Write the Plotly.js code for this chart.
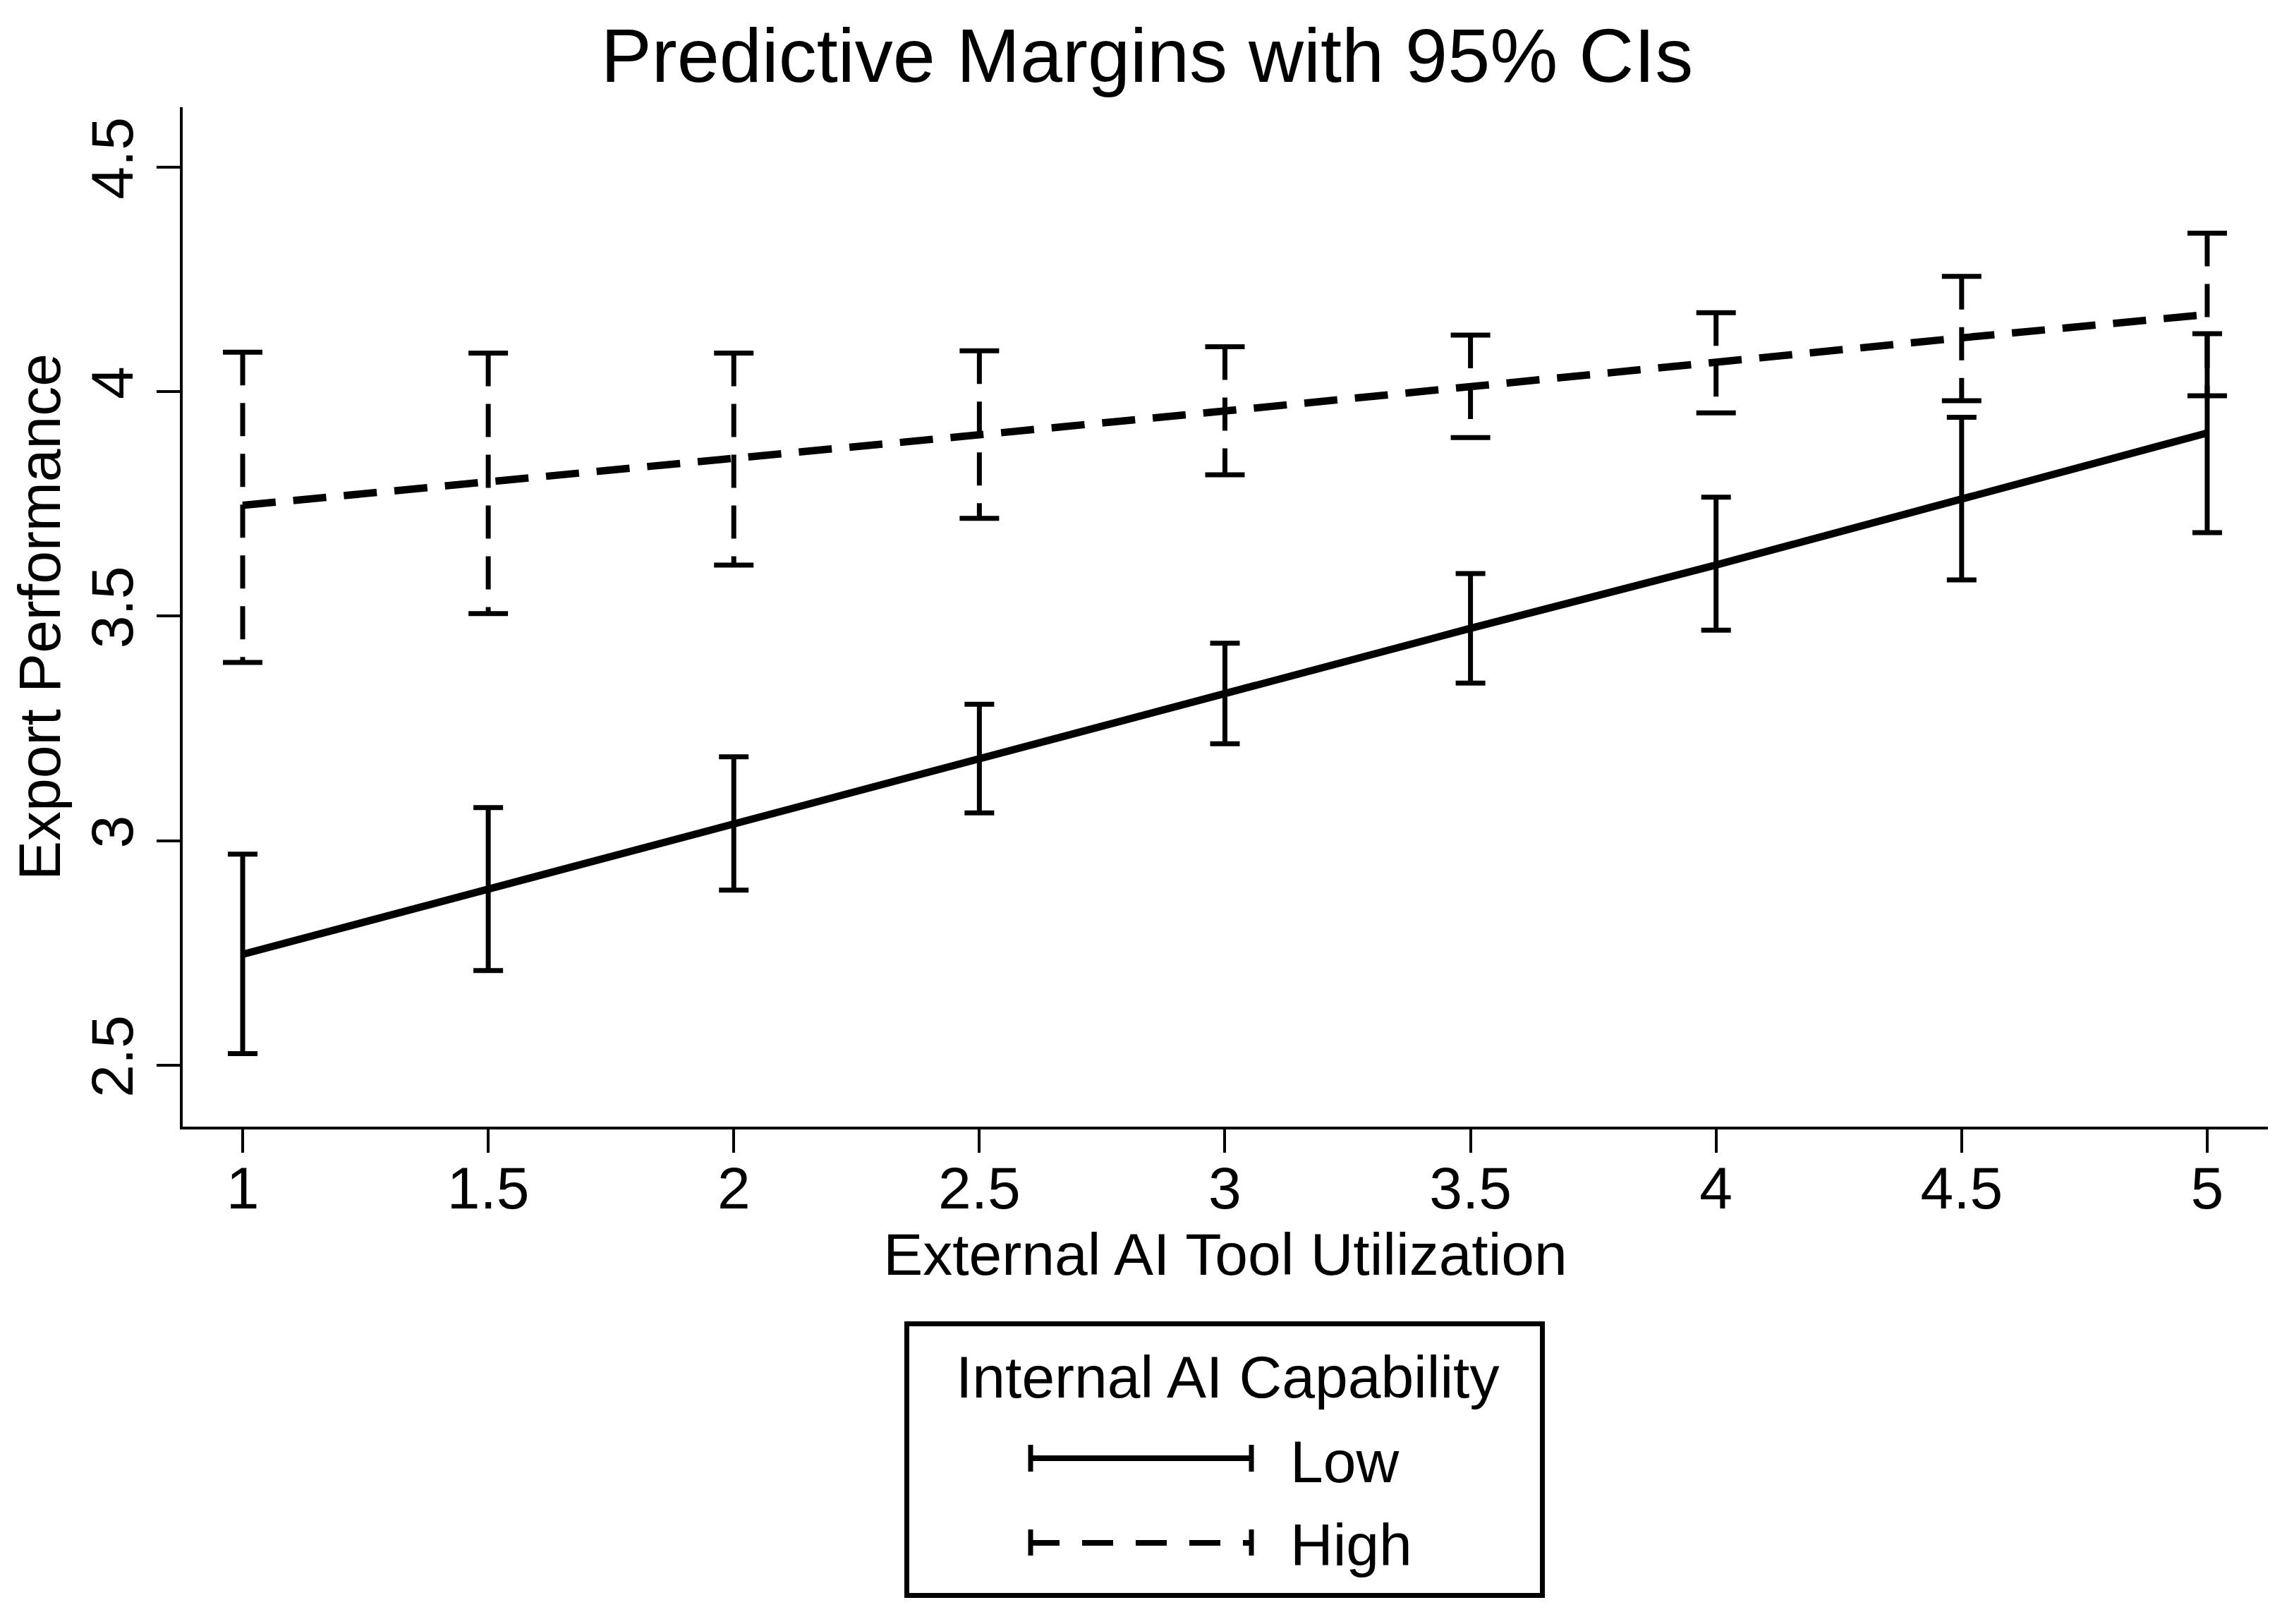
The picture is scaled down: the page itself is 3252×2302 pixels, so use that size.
<!DOCTYPE html>
<html>
<head>
<meta charset="utf-8">
<script src="https://cdn.plot.ly/plotly-3.0.1.min.js"></script>
<style>
  html, body { margin: 0; padding: 0; background: #ffffff; }
  #chart { width: 3252px; height: 2302px; }
</style>
</head>
<body>
<div id="chart"></div>
<script>
// ---- data ----
var xValues = [1, 1.5, 2, 2.5, 3, 3.5, 4, 4.5, 5];
var xTickLabels = ['1', '1.5', '2', '2.5', '3', '3.5', '4', '4.5', '5'];
var yTickValues = [2.5, 3, 3.5, 4, 4.5];
var yTickLabels = ['2.5', '3', '3.5', '4', '4.5'];

var lowMargin = [2.747, 2.892, 3.039, 3.182, 3.328, 3.473, 3.614, 3.761, 3.908];
var lowLower  = [2.526, 2.711, 2.890, 3.062, 3.216, 3.351, 3.469, 3.581, 3.686];
var lowUpper  = [2.970, 3.074, 3.187, 3.304, 3.440, 3.595, 3.765, 3.943, 4.129];

var highMargin = [3.747, 3.798, 3.851, 3.904, 3.957, 4.012, 4.066, 4.120, 4.172];
var highLower  = [3.397, 3.506, 3.614, 3.718, 3.815, 3.898, 3.953, 3.980, 3.991];
var highUpper  = [4.088, 4.086, 4.086, 4.091, 4.100, 4.126, 4.176, 4.257, 4.353];

var seriesNames = ['Low', 'High'];
var legendTitle = 'Internal AI Capability';
var chartTitle = 'Predictive Margins with 95% CIs';
var xTitle = 'External AI Tool Utilization';
var yTitle = 'Export Performance';

// ---- styling ----
var FONT = 'Liberation Sans, Arial, Helvetica, sans-serif';
var W = 3252, H = 2302;
var M = { l: 259, r: 37, t: 152, b: 705 };
var plotW = W - M.l - M.r, plotH = H - M.t - M.b;
var DASH = '47px,25px';
var LINE_W = 10.5, BAR_W = 7;

function px2x(px) { return (px - M.l) / plotW; }
function px2y(py) { return (H - M.b - py) / plotH; }

// High CI as dashed vertical segments (built from the data)
var hx = [], hy = [];
for (var i = 0; i < xValues.length; i++) {
  hx.push(xValues[i], xValues[i], null);
  hy.push(highUpper[i], highLower[i], null);
}

var traces = [
  {
    x: hx, y: hy, type: 'scatter', mode: 'lines',
    line: { color: '#000', width: BAR_W, dash: DASH },
    showlegend: false, hoverinfo: 'skip', connectgaps: false
  },
  {
    x: xValues.concat(xValues), y: highUpper.concat(highLower),
    type: 'scatter', mode: 'markers',
    marker: { symbol: 'line-ew', size: 40, color: '#000', line: { color: '#000', width: BAR_W } },
    showlegend: false, hoverinfo: 'skip'
  },
  {
    x: xValues, y: lowMargin, type: 'scatter', mode: 'lines', name: seriesNames[0],
    line: { color: '#000', width: LINE_W },
    error_y: {
      type: 'data', symmetric: false,
      array: lowUpper.map(function (u, i) { return u - lowMargin[i]; }),
      arrayminus: lowLower.map(function (l, i) { return lowMargin[i] - l; }),
      color: '#000', thickness: BAR_W, width: 21
    },
    showlegend: false
  },
  {
    x: xValues, y: highMargin, type: 'scatter', mode: 'lines', name: seriesNames[1],
    line: { color: '#000', width: LINE_W, dash: DASH },
    showlegend: false
  }
];

// custom legend (box, title, keys)
var shapes = [
  { type: 'rect', xref: 'paper', yref: 'paper',
    x0: px2x(1285.5), x1: px2x(2186.5), y0: px2y(1876.5), y1: px2y(2261.5),
    line: { color: '#000', width: 7 }, fillcolor: 'rgba(0,0,0,0)' },
  // Low key
  { type: 'line', xref: 'paper', yref: 'paper', x0: px2x(1458), x1: px2x(1777), y0: px2y(2067), y1: px2y(2067),
    line: { color: '#000', width: 8 } },
  { type: 'line', xref: 'paper', yref: 'paper', x0: px2x(1461), x1: px2x(1461), y0: px2y(2048), y1: px2y(2086),
    line: { color: '#000', width: 7 } },
  { type: 'line', xref: 'paper', yref: 'paper', x0: px2x(1774), x1: px2x(1774), y0: px2y(2048), y1: px2y(2086),
    line: { color: '#000', width: 7 } },
  // High key
  { type: 'line', xref: 'paper', yref: 'paper', x0: px2x(1458), x1: px2x(1777), y0: px2y(2187), y1: px2y(2187),
    line: { color: '#000', width: 8, dash: '44px,32px' } },
  { type: 'line', xref: 'paper', yref: 'paper', x0: px2x(1461), x1: px2x(1461), y0: px2y(2168), y1: px2y(2205),
    line: { color: '#000', width: 7 } },
  { type: 'line', xref: 'paper', yref: 'paper', x0: px2x(1774), x1: px2x(1774), y0: px2y(2168), y1: px2y(2205),
    line: { color: '#000', width: 7 } }
];

var annotations = [
  { xref: 'paper', yref: 'paper', x: px2x(1740), y: px2y(1952), xanchor: 'center', yanchor: 'middle',
    text: legendTitle, showarrow: false, font: { family: FONT, size: 84, color: '#000' } },
  { xref: 'paper', yref: 'paper', x: px2x(1827), y: px2y(2072), xanchor: 'left', yanchor: 'middle',
    text: seriesNames[0], showarrow: false, font: { family: FONT, size: 84, color: '#000' } },
  { xref: 'paper', yref: 'paper', x: px2x(1827), y: px2y(2190), xanchor: 'left', yanchor: 'middle',
    text: seriesNames[1], showarrow: false, font: { family: FONT, size: 84, color: '#000' } }
];

var layout = {
  width: W, height: H,
  margin: M,
  paper_bgcolor: '#ffffff', plot_bgcolor: '#ffffff',
  font: { family: FONT, color: '#000' },
  showlegend: false,
  title: {
    text: chartTitle, font: { family: FONT, size: 108, color: '#000' },
    x: 0.5, xref: 'container', xanchor: 'center',
    y: 1 - 78 / H, yref: 'container', yanchor: 'middle'
  },
  xaxis: {
    range: [0.8779, 5.1236],
    tickmode: 'array', tickvals: xValues, ticktext: xTickLabels,
    showgrid: false, zeroline: false,
    showline: true, linecolor: '#000', linewidth: 4,
    ticks: 'outside', ticklen: 33, tickwidth: 4, tickcolor: '#000',
    ticklabelstandoff: -22,
    tickfont: { family: FONT, size: 84, color: '#000' },
    title: { text: xTitle, font: { family: FONT, size: 84, color: '#000' }, standoff: 10 },
    automargin: false, fixedrange: true
  },
  yaxis: {
    range: [2.3633, 4.6335],
    tickmode: 'array', tickvals: yTickValues, ticktext: yTickLabels,
    tickangle: -90,
    showgrid: false, zeroline: false,
    showline: true, linecolor: '#000', linewidth: 4,
    ticks: 'outside', ticklen: 33, tickwidth: 4, tickcolor: '#000',
    tickfont: { family: FONT, size: 84, color: '#000' },
    title: { text: yTitle, font: { family: FONT, size: 84, color: '#000' }, standoff: 0 },
    automargin: false, fixedrange: true
  },
  shapes: shapes,
  annotations: annotations
};

Plotly.newPlot('chart', traces, layout, { displayModeBar: false, staticPlot: true });
</script>
</body>
</html>
